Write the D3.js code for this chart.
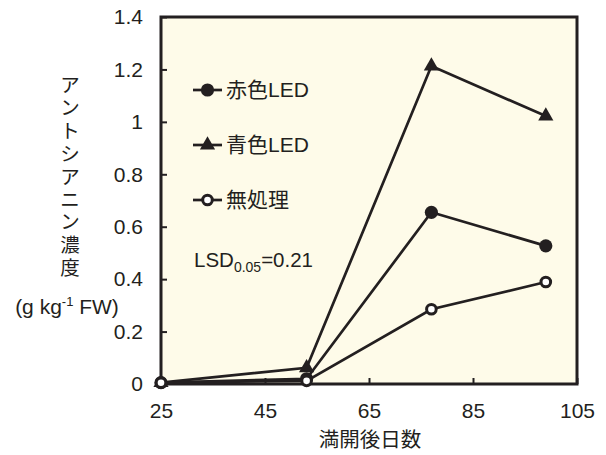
<!DOCTYPE html>
<html><head><meta charset="utf-8">
<script src="https://cdn.jsdelivr.net/npm/d3@7"></script>
<style>body{margin:0;background:#fff;}text{font-family:Arial,"Liberation Sans","Noto Sans CJK JP",sans-serif;fill:#231f20;}</style>
</head><body><svg id="c" width="606" height="455"></svg>
<script>
const days = [25, 53, 77, 99];
const redLED = [0.005, 0.02, 0.655, 0.527];
const blueLED = [0.005, 0.062, 1.213, 1.022];
const control = [0.005, 0.012, 0.285, 0.389];
const seriesNames = ["赤色LED", "青色LED", "無処理"];
const xTicks = [25, 45, 65, 85, 105];
const yTicks = [0, 0.2, 0.4, 0.6, 0.8, 1, 1.2, 1.4];
const yTitleChars = ["ア","ン","ト","シ","ア","ニ","ン","濃","度"];

const svg = d3.select("#c");
const L = 161, R = 577, T = 17, B = 384;
const x = d3.scaleLinear().domain([25, 105]).range([L, R]);
const y = d3.scaleLinear().domain([0, 1.4]).range([B, T]);
const ink = "#231f20";
const latin = "Arial, 'Liberation Sans', sans-serif";

svg.append("rect").attr("x", L).attr("y", T).attr("width", R - L).attr("height", B - T)
  .attr("fill", "#fefbe9").attr("stroke", ink).attr("stroke-width", 3);

// y axis
const ya = svg.append("g").attr("transform", `translate(${L},0)`)
  .call(d3.axisRight(y).tickValues(yTicks).tickFormat(d => String(+d.toFixed(1))).tickSize(6));
ya.select(".domain").remove();
ya.selectAll("line").attr("stroke", ink).attr("stroke-width", 2);
ya.selectAll("text").attr("x", -18).attr("text-anchor", "end").attr("font-size", 21).attr("fill", ink)
  .style("font-family", latin);

// x axis
const xa = svg.append("g").attr("transform", `translate(0,${B})`)
  .call(d3.axisTop(x).tickValues(xTicks).tickFormat(d3.format("d")).tickSize(6));
xa.select(".domain").remove();
xa.selectAll("line").attr("stroke", ink).attr("stroke-width", 2);
xa.selectAll("text").attr("y", 34).attr("font-size", 21).attr("fill", ink)
  .style("font-family", latin);

svg.append("text").attr("x", 370).attr("y", 447).attr("text-anchor", "middle")
  .attr("font-size", 20.5).text("満開後日数");

// y title
yTitleChars.forEach((ch, i) => {
  svg.append("text").attr("x", 70).attr("y", 92 + i * 22.9).attr("text-anchor", "middle")
    .attr("font-size", 19.5).text(ch);
});
const u = svg.append("text").attr("x", 67).attr("y", 314).attr("text-anchor", "middle").attr("font-size", 21);
u.append("tspan").text("(g kg");
u.append("tspan").attr("font-size", 13).attr("dy", -8).text("-1");
u.append("tspan").attr("dy", 8).text(" FW)");

const line = d3.line().x((d, i) => x(days[i])).y(d => y(d));
const data = [redLED, blueLED, control];
const g = svg.append("g");
data.forEach(s => {
  g.append("path").attr("d", line(s)).attr("fill", "none").attr("stroke", ink).attr("stroke-width", 2.7);
});
function marker(sel, type, cx, cy) {
  if (type === 0) sel.append("circle").attr("cx", cx).attr("cy", cy).attr("r", 6.6).attr("fill", ink);
  else if (type === 1) sel.append("path").attr("d", d3.symbol(d3.symbolTriangle, 100)()).attr("transform", `translate(${cx},${cy})`).attr("fill", ink);
  else sel.append("circle").attr("cx", cx).attr("cy", cy).attr("r", 4.8).attr("fill", "#fff").attr("stroke", ink).attr("stroke-width", 3);
}
[0, 1, 2].forEach(t => {
  data[t].forEach((v, i) => marker(g, t, x(days[i]), y(v)));
});

// legend
const legY = [90, 145, 200];
seriesNames.forEach((n, i) => {
  svg.append("line").attr("x1", 193).attr("x2", 222).attr("y1", legY[i]).attr("y2", legY[i]).attr("stroke", ink).attr("stroke-width", 2.7);
  marker(svg, i, 207.5, legY[i]);
  svg.append("text").attr("x", 226).attr("y", legY[i] + 7).attr("font-size", 21).text(n);
});
const lsd = svg.append("text").attr("x", 194).attr("y", 267).attr("font-size", 20.5);
lsd.append("tspan").text("LSD");
lsd.append("tspan").attr("font-size", 14).attr("dy", 5).text("0.05");
lsd.append("tspan").attr("dy", -5).text("=0.21");
</script></body></html>
